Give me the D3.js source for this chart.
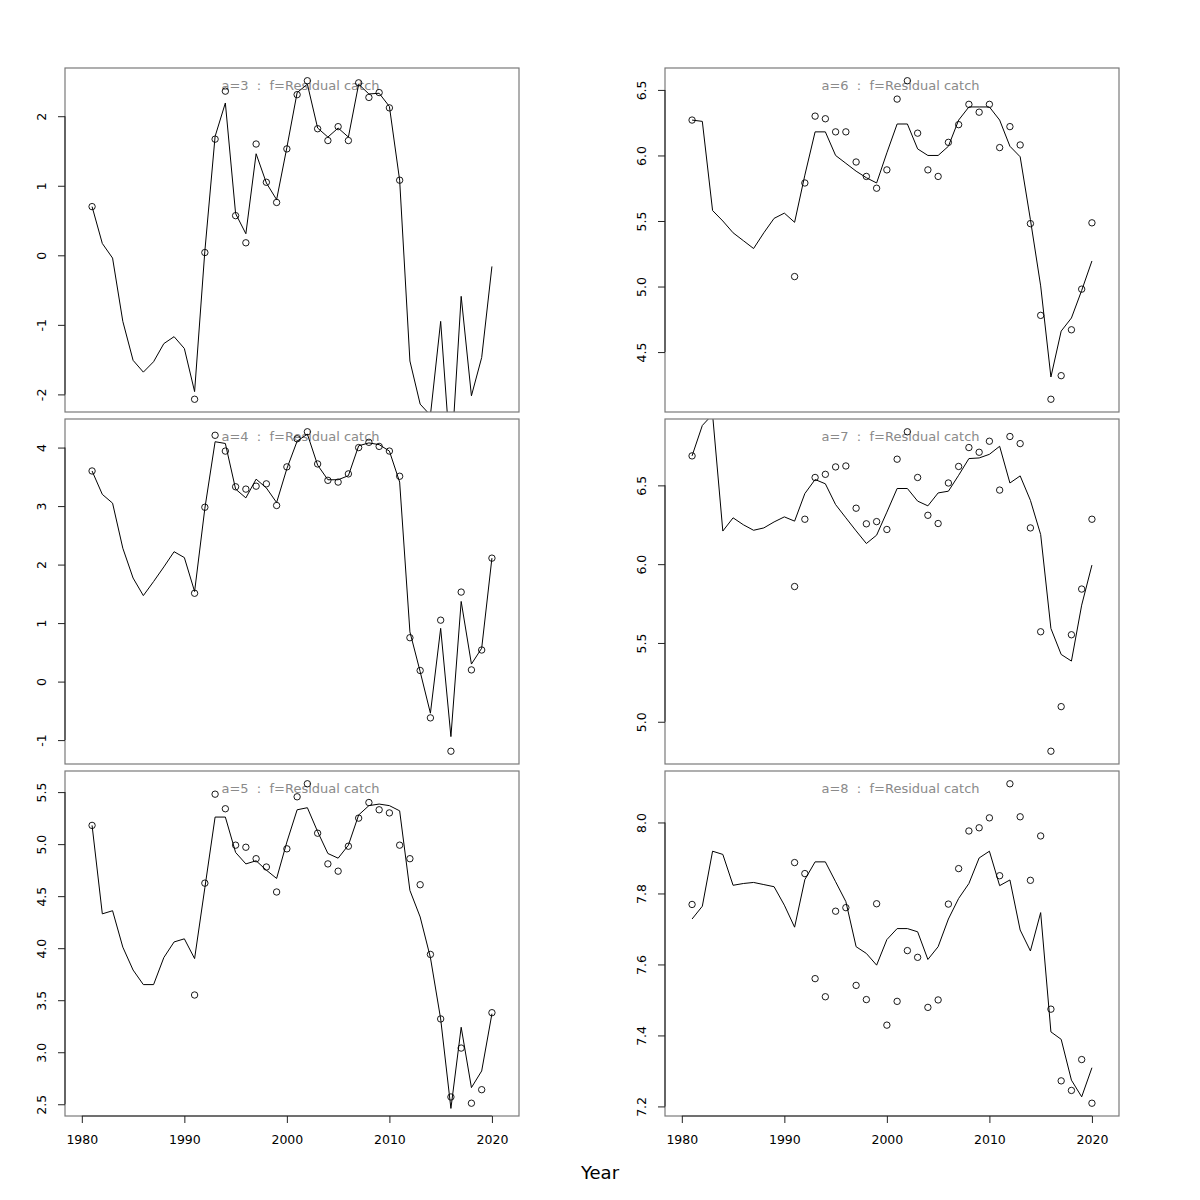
<!DOCTYPE html>
<html>
<head>
<meta charset="utf-8">
<script src="https://cdn.jsdelivr.net/npm/d3@7"></script>
<style>
  html, body { margin: 0; padding: 0; background: #fff; }
  svg { display: block; font-family: "DejaVu Sans", sans-serif; }
</style>
</head>
<body>
<svg id="chart" width="1200" height="1200"></svg>
<script>
const years = d3.range(1981, 2021);

const ages = [3, 4, 5, 6, 7, 8];
const titleSuffix = "  :  f=Residual catch";
const xTicks = [1980, 1990, 2000, 2010, 2020];

// observed (points), null = missing
const obs3 = [0.70, null, null, null, null, null, null, null, null, null,
  -2.07, 0.04, 1.67, 2.36, 0.57, 0.18, 1.60, 1.05, 0.76, 1.53,
  2.31, 2.51, 1.82, 1.65, 1.85, 1.65, 2.48, 2.27, 2.34, 2.12,
  1.08, null, null, null, null, null, null, null, null, null];
const fit3 = [0.70, 0.17, -0.04, -0.95, -1.51, -1.68, -1.53, -1.27, -1.17, -1.34,
  -1.96, 0.06, 1.71, 2.19, 0.60, 0.31, 1.46, 1.04, 0.80, 1.55,
  2.34, 2.46, 1.83, 1.70, 1.83, 1.70, 2.46, 2.32, 2.33, 2.14,
  1.08, -1.52, -2.14, -2.30, -0.95, -3.00, -0.59, -2.02, -1.47, -0.16];

const obs4 = [3.60, null, null, null, null, null, null, null, null, null,
  1.51, 2.98, 4.21, 3.94, 3.33, 3.29, 3.34, 3.38, 3.01, 3.67,
  4.15, 4.27, 3.72, 3.44, 3.41, 3.55, 4.00, 4.09, 4.02, 3.94,
  3.51, 0.75, 0.19, -0.62, 1.05, -1.19, 1.53, 0.20, 0.54, 2.11];
const fit4 = [3.60, 3.20, 3.05, 2.28, 1.77, 1.47, 1.71, 1.96, 2.22, 2.12,
  1.54, 2.96, 4.10, 4.07, 3.29, 3.14, 3.46, 3.31, 3.06, 3.64,
  4.11, 4.23, 3.70, 3.45, 3.45, 3.52, 4.03, 4.08, 4.05, 3.94,
  3.41, 0.85, 0.17, -0.54, 0.91, -0.94, 1.37, 0.30, 0.57, 2.11];

const obs5 = [5.18, null, null, null, null, null, null, null, null, null,
  3.55, 4.625, 5.48, 5.34, 4.99, 4.97, 4.86, 4.78, 4.54, 4.955,
  5.455, 5.58, 5.105, 4.81, 4.74, 4.98, 5.25, 5.40, 5.33, 5.30,
  4.99, 4.86, 4.61, 3.94, 3.32, 2.57, 3.04, 2.51, 2.64, 3.38];
const fit5 = [5.18, 4.33, 4.36, 4.01, 3.79, 3.65, 3.65, 3.91, 4.06, 4.09,
  3.90, 4.58, 5.26, 5.26, 4.92, 4.81, 4.84, 4.75, 4.67, 5.02,
  5.33, 5.35, 5.12, 4.91, 4.865, 4.99, 5.28, 5.37, 5.385, 5.37,
  5.32, 4.555, 4.30, 3.91, 3.32, 2.46, 3.24, 2.66, 2.82, 3.37];

const obs6 = [6.27, null, null, null, null, null, null, null, null, null,
  5.076, 5.79, 6.30, 6.28, 6.18, 6.18, 5.95, 5.84, 5.75, 5.89,
  6.43, 6.57, 6.17, 5.89, 5.84, 6.10, 6.235, 6.39, 6.33, 6.39,
  6.06, 6.22, 6.08, 5.48, 4.78, 4.14, 4.32, 4.67, 4.98, 5.486];
const fit6 = [6.27, 6.26, 5.58, 5.50, 5.41, 5.35, 5.29, 5.41, 5.52, 5.56,
  5.49, 5.85, 6.18, 6.18, 6.00, 5.94, 5.88, 5.83, 5.79, 6.02,
  6.24, 6.24, 6.05, 6.00, 6.00, 6.07, 6.27, 6.37, 6.37, 6.37,
  6.27, 6.07, 5.99, 5.51, 5.005, 4.31, 4.66, 4.76, 4.97, 5.195];

const obs7 = [6.687, null, null, null, null, null, null, null, null, null,
  5.858, 6.285, 6.55, 6.57, 6.617, 6.623, 6.355, 6.256, 6.27, 6.22,
  6.666, 6.84, 6.55, 6.31, 6.258, 6.515, 6.62, 6.74, 6.71, 6.78,
  6.47, 6.81, 6.765, 6.23, 5.571, 4.813, 5.096, 5.552, 5.842, 6.285];
const fit7 = [6.687, 6.88, 6.95, 6.21, 6.294, 6.25, 6.215, 6.23, 6.268, 6.30,
  6.273, 6.448, 6.537, 6.51, 6.378, 6.294, 6.211, 6.131, 6.184, 6.33,
  6.48, 6.48, 6.40, 6.37, 6.452, 6.463, 6.564, 6.67, 6.674, 6.697,
  6.748, 6.515, 6.56, 6.405, 6.188, 5.592, 5.427, 5.385, 5.74, 5.994];

const obs8 = [7.769, null, null, null, null, null, null, null, null, null,
  7.887, 7.856, 7.56, 7.509, 7.75, 7.76, 7.541, 7.501, 7.771, 7.429,
  7.496, 7.639, 7.62, 7.479, 7.50, 7.77, 7.87, 7.976, 7.985, 8.013,
  7.85, 8.109, 8.016, 7.837, 7.962, 7.474, 7.272, 7.245, 7.332, 7.209];
const fit8 = [7.728, 7.764, 7.919, 7.91, 7.823, 7.828, 7.831, 7.825, 7.819, 7.767,
  7.705, 7.839, 7.889, 7.889, 7.833, 7.777, 7.65, 7.631, 7.598, 7.67,
  7.701, 7.701, 7.692, 7.614, 7.65, 7.728, 7.786, 7.828, 7.90, 7.919,
  7.822, 7.838, 7.697, 7.638, 7.746, 7.41, 7.389, 7.274, 7.227, 7.309];

const yTicks3 = [-2, -1, 0, 1, 2];
const yTicks4 = [-1, 0, 1, 2, 3, 4];
const yTicks5 = [2.5, 3.0, 3.5, 4.0, 4.5, 5.0, 5.5];
const yTicks6 = [4.5, 5.0, 5.5, 6.0, 6.5];
const yTicks7 = [5.0, 5.5, 6.0, 6.5];
const yTicks8 = [7.2, 7.4, 7.6, 7.8, 8.0];

const obsList = [obs3, obs4, obs5, obs6, obs7, obs8];
const fitList = [fit3, fit4, fit5, fit6, fit7, fit8];
const tickList = [yTicks3, yTicks4, yTicks5, yTicks6, yTicks7, yTicks8];
const tickDigits = [0, 0, 1, 1, 1, 1];

// ---- layout ----
const cols = [[65, 519], [665, 1119]];
const rows = [[68, 412], [419, 764], [771, 1116]];

const svg = d3.select("#chart");
svg.append("rect").attr("width", 1200).attr("height", 1200).attr("fill", "#fff");

const xDomain = [1980 - 0.04 * 41, 2021 + 0.04 * 41];

ages.forEach((a, i) => {
  const col = Math.floor(i / 3), row = i % 3;
  const [x0, x1] = cols[col];
  const [y0, y1] = rows[row];
  const obs = obsList[i], fit = fitList[i];
  const ext = d3.extent(obs.filter(v => v != null));
  const pad = (ext[1] - ext[0]) * 0.04;
  const x = d3.scaleLinear().domain(xDomain).range([x0, x1]);
  const y = d3.scaleLinear().domain([ext[0] - pad, ext[1] + pad]).range([y1, y0]);

  const g = svg.append("g");
  const clipId = "clip" + a;
  g.append("clipPath").attr("id", clipId)
    .append("rect").attr("x", x0).attr("y", y0).attr("width", x1 - x0).attr("height", y1 - y0);

  // title
  g.append("text")
    .attr("x", (x0 + x1) / 2 + 8.5).attr("y", y0 + 21.5)
    .attr("text-anchor", "middle")
    .attr("font-size", 13).attr("fill", "#8a8a8a")
    .attr("xml:space", "preserve")
    .style("white-space", "pre")
    .text("a=" + a + titleSuffix);

  const plot = g.append("g").attr("clip-path", `url(#${clipId})`);

  const line = d3.line()
    .defined(d => d[1] != null)
    .x(d => x(d[0])).y(d => y(d[1]));
  plot.append("path")
    .datum(years.map((yr, k) => [yr, fit[k]]))
    .attr("d", line)
    .attr("fill", "none").attr("stroke", "#000").attr("stroke-width", 1);

  plot.selectAll("circle")
    .data(years.map((yr, k) => [yr, obs[k]]).filter(d => d[1] != null))
    .join("circle")
    .attr("cx", d => x(d[0])).attr("cy", d => y(d[1]))
    .attr("r", 3.2)
    .attr("fill", "none").attr("stroke", "#000").attr("stroke-width", 0.9);

  // box
  g.append("rect")
    .attr("x", x0).attr("y", y0).attr("width", x1 - x0).attr("height", y1 - y0)
    .attr("fill", "none").attr("stroke", "#7a7a7a").attr("stroke-width", 1.2);

  // y axis
  const fmt = d3.format("." + tickDigits[i] + "f");
  const yAxis = d3.axisLeft(y).tickValues(tickList[i]).tickSize(7).tickPadding(5)
    .tickFormat(d => fmt(d).replace("\u2212", "-"));
  const ya = g.append("g").attr("transform", `translate(${x0},0)`).call(yAxis);
  ya.select(".domain").attr("d", `M0,${y(tickList[i][0])}V${y(tickList[i][tickList[i].length - 1])}`)
    .attr("stroke", "#333").attr("stroke-width", 1.2);
  ya.selectAll(".tick line").attr("stroke", "#222");
  ya.selectAll(".tick text")
    .attr("font-size", 12.5).attr("fill", "#000")
    .attr("font-family", "DejaVu Sans, sans-serif")
    .attr("text-anchor", "middle")
    .attr("x", null)
    .attr("transform", "translate(-23,0) rotate(-90)")
    .attr("dy", "0.35em");

  // x axis on bottom row
  if (row === 2) {
    const xAxis = d3.axisBottom(x).tickValues(xTicks).tickSize(7).tickPadding(12)
      .tickFormat(d3.format("d"));
    const xa = g.append("g").attr("transform", `translate(0,${y1})`).call(xAxis);
    xa.select(".domain").attr("d", `M${x(xTicks[0])},0H${x(xTicks[xTicks.length - 1])}`)
      .attr("stroke", "#333").attr("stroke-width", 1.2);
    xa.selectAll(".tick line").attr("stroke", "#222");
    xa.selectAll(".tick text").attr("font-size", 12.5).attr("fill", "#000")
      .attr("font-family", "DejaVu Sans, sans-serif");
  }
});

svg.append("text")
  .attr("x", 600).attr("y", 1179)
  .attr("text-anchor", "middle")
  .attr("font-size", 18).attr("fill", "#000")
  .text("Year");
</script>
</body>
</html>
